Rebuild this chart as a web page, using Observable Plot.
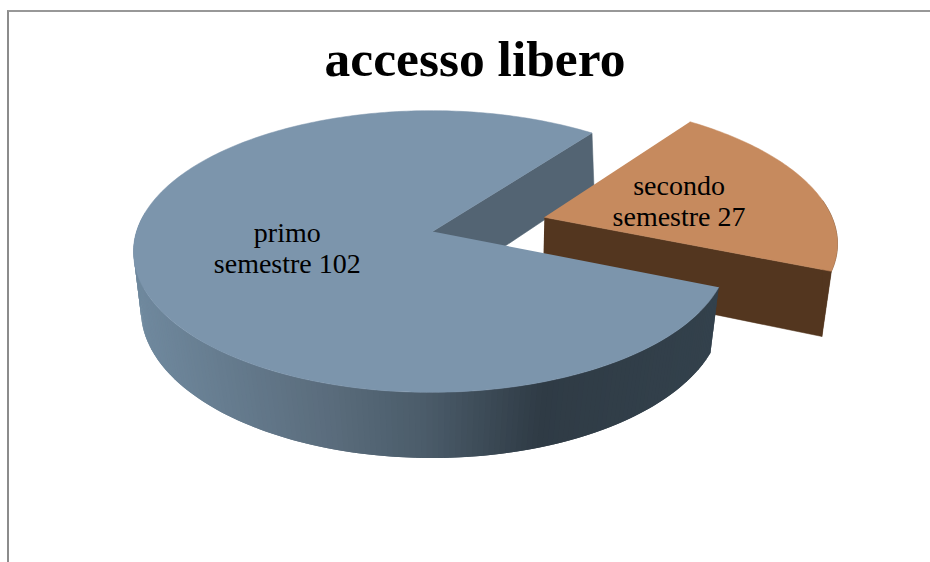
<!DOCTYPE html>
<html>
<head>
<meta charset="utf-8">
<script src="https://cdn.jsdelivr.net/npm/d3@7"></script>
<script src="https://cdn.jsdelivr.net/npm/@observablehq/plot@0.6"></script>
<style>
html,body{margin:0;padding:0;background:#fff;overflow:hidden}
#frame{position:absolute;left:7px;top:10px;width:923px;height:552px;border-left:2px solid #8c8c8c;border-top:2px solid #989898;box-sizing:border-box;pointer-events:none}
#title{position:absolute;left:0;top:30px;width:950px;text-align:center;font:bold 51.5px/58px "Liberation Serif",serif;color:#000;margin:0}
#chart{position:absolute;left:0;top:0}
</style>
</head>
<body>
<div id="chart"></div>
<h1 id="title"></h1>
<div id="frame"></div>
<script>
const title = "accesso libero";
const categories = ["primo\nsemestre", "secondo\nsemestre"];
const values = [102, 27];
const topColors = ["#7c95ac", "#c68a5e"];
const cutColors = ["#536473", "#53361f"];
const wallStops = [140, 330, 430, 545, 720];
const wallColors = ["#6f889d", "#5a6c7c", "#4a5b69", "#2f3b45", "#33414c"];

// view of the tilted disc: apex position, half-axes and perspective strength
const topView = {ax: 432, ay: 231, A: 294.5, B: 138, p: 0.142, q: 0.005};
const baseView = {ax: 432, ay: 294, A: 289.5, B: 146.5, p: 0.104, q: 0.002};
const startAngle = 52.8, explode = 0.4;

const total = d3.sum(values);
const sweep = values.map(v => v / total * 360);
const rad = d => d * Math.PI / 180;
const main = {from: startAngle, to: startAngle + sweep[0], off: [0, 0]};
const midS = startAngle - sweep[1] / 2;
const side = {from: startAngle - sweep[1], to: startAngle, off: [explode * Math.cos(rad(midS)), -explode * Math.sin(rad(midS))]};

function project(view, slice, r, angle) {
  const u = slice.off[0] + r * Math.cos(rad(angle));
  const v = slice.off[1] - r * Math.sin(rad(angle));
  const w = 1 - view.p * v + view.q * u;
  return {x: view.ax + view.A * u / w, y: view.ay + view.B * v / w};
}
const arc = (view, slice, a, b) => {
  const n = Math.max(1, Math.ceil(Math.abs(b - a)));
  return d3.range(n + 1).map(i => project(view, slice, 1, a + (b - a) * i / n));
};
const poly = (id, fill, pts) => pts.map(p => ({...p, id, fill}));

const wallColor = d3.scaleLinear().domain(wallStops).range(wallColors).clamp(true);

const backCut = poly("backCut", cutColors[0], [
  project(topView, main, 0, 0), project(topView, main, 1, main.from),
  project(baseView, main, 1, main.from), project(baseView, main, 0, 0)]);

const sideCut = poly("sideCut", cutColors[1], [
  project(topView, side, 0, 0), project(topView, side, 1, side.from),
  project(baseView, side, 1, side.from), project(baseView, side, 0, 0)]);
const sideWall = poly("sideWall", cutColors[1], [
  ...arc(topView, side, side.from, side.from + 30),
  project(baseView, side, 1, side.from)]);
const sideTop = poly("sideTop", topColors[1], [project(topView, side, 0, 0), ...arc(topView, side, side.from, side.to)]);

// main outer wall: one quad per step, each overlapping the next, shaded by position
const wallFrom = 172, step = 1;
const mainWall = d3.range(wallFrom, main.to, step).flatMap(a => {
  const b = Math.min(a + step * 2, main.to);
  const q = [project(topView, main, 1, a), project(topView, main, 1, b), project(baseView, main, 1, b), project(baseView, main, 1, a)];
  return poly("w" + a, wallColor((q[0].x + q[1].x) / 2), q);
});
const mainTop = poly("mainTop", topColors[0], [project(topView, main, 0, 0), ...arc(topView, main, main.from, main.to)]);

const labels = [
  {...project(topView, main, 0.5, (main.from + main.to) / 2), text: `${categories[0]} ${values[0]}`},
  {...project(topView, side, 0.5, (side.from + side.to) / 2), text: `${categories[1]} ${values[1]}`}
];
const shape = (d, sw = 0.5) => Plot.line(d, {x: "x", y: "y", z: "id", fill: "fill", stroke: "fill", strokeWidth: sw, curve: "linear"});
const label = (d, dy) => Plot.text([d], {x: "x", y: "y", dy, text: "text", fill: "#000", fontSize: 28, lineHeight: 1.1, fontFamily: "Liberation Serif, serif"});

document.getElementById("title").textContent = title;
document.getElementById("chart").append(Plot.plot({
  width: 930, height: 562, margin: 0,
  x: {domain: [0, 930], range: [0, 930], axis: null},
  y: {domain: [0, 562], range: [0, 562], axis: null},
  marks: [
    shape(backCut), shape(sideCut), shape(sideWall), shape(sideTop),
    shape(mainWall, 0), shape(mainTop),
    label(labels[0], -2), label(labels[1], 0)
  ]
}));
</script>
</body>
</html>
